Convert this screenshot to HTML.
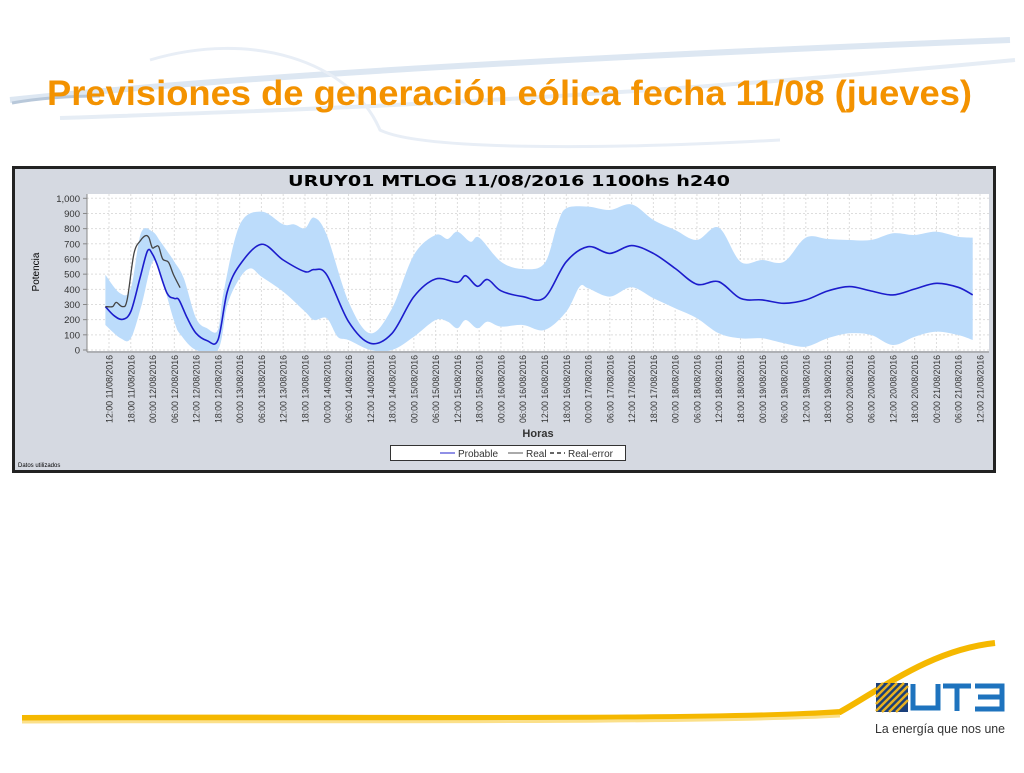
<!DOCTYPE html>
<html><head><meta charset="utf-8">
<style>
html,body{margin:0;padding:0;background:#fff;}
body{width:1024px;height:768px;overflow:hidden;position:relative;font-family:"Liberation Sans",sans-serif;}
</style></head>
<body>
<svg id="page" width="1024" height="768" viewBox="0 0 1024 768" xmlns="http://www.w3.org/2000/svg">
  <g fill="none">
    <path d="M10 100 C 200 80, 500 60, 1010 40" stroke="#dde7f2" stroke-width="6"/>
    <path d="M60 118 C 300 110, 600 100, 1015 60" stroke="#e6edf5" stroke-width="4"/>
    <path d="M150 60 C 250 30, 350 60, 380 130 C 420 150, 600 150, 780 140" stroke="#e8eef6" stroke-width="3"/>
    <path d="M12 103 C 40 98, 70 96, 100 96" stroke="#b8c8da" stroke-width="3"/>
  </g>
  <text x="47" y="105" font-size="35" font-weight="bold" fill="#f39200" textLength="925" lengthAdjust="spacingAndGlyphs">Previsiones de generación eólica fecha 11/08 (jueves)</text>

  <g>
    <rect x="13.5" y="167.5" width="981" height="304" fill="#d5d9e1" stroke="#222" stroke-width="3"/>
    <text x="288" y="186" font-size="15" font-weight="bold" fill="#000" font-family="'DejaVu Sans',sans-serif" textLength="442" lengthAdjust="spacingAndGlyphs">URUY01  MTLOG  11/08/2016  1100hs   h240</text>
    <rect x="87" y="194" width="902" height="157" fill="#fff"/>
    <g id="grid"></g>
    <g id="series"></g>
    <line x1="87" y1="194" x2="87" y2="352" stroke="#888"/>
    <line x1="87" y1="352" x2="989" y2="352" stroke="#888"/>
    <g id="yticks"></g>
    <g id="xticks"></g>
    <text x="0" y="0" transform="translate(39,272) rotate(-90)" font-size="10" text-anchor="middle" fill="#000">Potencia</text>
    <text x="538" y="437" font-size="11" font-weight="bold" text-anchor="middle" fill="#333">Horas</text>
    <g>
      <rect x="390.5" y="445.5" width="235" height="15" fill="#fff" stroke="#333"/>
      <g>
        <line x1="440" y1="453" x2="455" y2="453" stroke="#2222cc"/>
        <text x="458" y="457" font-size="10" fill="#333">Probable</text>
      </g>
      <g>
        <line x1="508" y1="453" x2="523" y2="453" stroke="#555"/>
        <text x="526" y="457" font-size="10" fill="#333">Real</text>
      </g>
      <g>
        <line x1="550" y1="453" x2="565" y2="453" stroke="#333" stroke-dasharray="4,3" stroke-width="1.5"/>
        <text x="568" y="457" font-size="10" fill="#333">Real-error</text>
      </g>
    </g>
    <text x="18" y="467" font-size="6" fill="#000">Datos utilizados</text>
  </g>

  <g fill="none">
    <path d="M22 718 C 300 716, 700 722, 840 712 C 880 690, 930 650, 995 643" stroke="#f5b800" stroke-width="6"/>
    <path d="M22 722 C 300 721, 700 724, 840 716" stroke="#fbe08a" stroke-width="3"/>
  </g>
  <g>
    <rect x="876" y="683" width="32" height="29" fill="#1a3f7a"/>
    <path d="M876 690 L883 683 M876 697 L890 683 M876 704 L897 683 M876 711 L904 683 M882 712 L908 686 M889 712 L908 693 M896 712 L908 700" stroke="#e8b020" stroke-width="2.5"/>
    <g fill="none" stroke="#1e73be" stroke-width="5">
      <path d="M913 684 V708 H938 V684"/>
      <path d="M943 686 H971 M957 686 V711"/>
      <path d="M975 686 H1002 V709 H975 M978 697 H1000"/>
    </g>
    <text x="875" y="733" font-size="13" fill="#333" textLength="130" lengthAdjust="spacingAndGlyphs">La energía que nos une</text>
  </g>
</svg>
<script>
const yTicks = [0,100,200,300,400,500,600,700,800,900,1000];
const yTickLabels = ["0","100","200","300","400","500","600","700","800","900","1,000"];
const xTickHours = [];
for (let i = 0; i <= 40; i++) xTickHours.push(i * 6);
const days = ["11","12","13","14","15","16","17","18","19","20","21"];
const hrs = ["00:00","06:00","12:00","18:00"];

const probHours = [-1,1.4,3.7,6,8.5,10.6,12,13.3,16,18,19.3,21.6,24,27,30,32.6,36,42,48,54,56.5,60,66,72,78,84,90,96,98.3,101.5,104.3,108,114,120,126,132,138,144,150,156,162,168,174,180,186,192,198,204,210,216,222,228,234,238];
const probValues = [286,226,202,253,470,653,630,560,374,340,330,209,110,62,65,385,560,697,593,516,530,495,187,44,110,352,468,446,490,420,465,390,352,345,582,681,637,688,637,538,433,450,340,330,308,330,389,418,389,363,402,440,413,363];
const upperHours = [-1,3,6,8.8,12,14.2,18,20.6,24,27,30,31.6,36,42,48,51,54,56.5,60,66,72,78,84,90,93.3,96,99.6,102,108,114,120,123.5,126,132,138,144,150,156,162,168,174,180,186,192,198,204,210,216,222,228,234,238];
const upperValues = [495,375,406,770,780,714,582,473,209,143,132,385,824,912,828,828,802,873,758,319,110,275,626,758,732,780,714,741,582,534,571,824,934,945,923,960,857,791,725,807,582,593,582,741,732,725,725,769,758,780,747,741];
const lowerHours = [-1,3.2,6,9,12,14.2,18,19.8,24,30,32.6,36,39,42,48,54,56.5,60,63,66,72,78,84,90,93.3,96,98.3,101.5,104.3,108,114,120,126,129.7,132,138,144,150,156,162,168,174,180,186,192,198,204,210,216,222,228,234,238];
const lowerValues = [165,77,77,300,582,495,187,99,0,0,297,473,538,484,385,253,198,209,88,66,0,0,88,198,187,143,198,143,187,154,165,132,253,418,407,352,413,341,275,209,110,77,77,44,22,77,110,99,33,88,121,99,66];
const realHours = [-1,1,2,3.7,5,6.9,8.8,10.1,11,11.9,12.8,13.7,14.8,16.4,17.8,19.6];
const realValues = [286,286,314,286,330,637,725,754,741,675,681,681,600,578,495,411];

const NS = "http://www.w3.org/2000/svg";
const X0 = 109, PXH = 871/240, Y0 = 350, PXV = 151.7/1000;
const xs = h => X0 + h * PXH;
const ys = v => Y0 - v * PXV;

function smooth(pts){
  let d = "M" + pts[0][0].toFixed(1) + " " + pts[0][1].toFixed(1);
  for (let i = 0; i < pts.length - 1; i++){
    const p0 = pts[Math.max(0,i-1)], p1 = pts[i], p2 = pts[i+1], p3 = pts[Math.min(pts.length-1,i+2)];
    const c1x = p1[0] + (p2[0]-p0[0])/6, c1y = p1[1] + (p2[1]-p0[1])/6;
    const c2x = p2[0] - (p3[0]-p1[0])/6, c2y = p2[1] - (p3[1]-p1[1])/6;
    d += " C" + c1x.toFixed(1) + " " + c1y.toFixed(1) + " " + c2x.toFixed(1) + " " + c2y.toFixed(1) + " " + p2[0].toFixed(1) + " " + p2[1].toFixed(1);
  }
  return d;
}
function pts(hs, vs){ return hs.map((h,i)=>[xs(h), ys(vs[i])]); }

const grid = document.getElementById("grid");
yTicks.forEach(v=>{
  const l = document.createElementNS(NS,"line");
  l.setAttribute("x1",87); l.setAttribute("x2",989);
  l.setAttribute("y1",ys(v)); l.setAttribute("y2",ys(v));
  l.setAttribute("stroke","#ddd"); l.setAttribute("stroke-dasharray","2,2");
  
  
  grid.appendChild(l);
});
xTickHours.forEach(h=>{
  const l = document.createElementNS(NS,"line");
  l.setAttribute("x1",xs(h)); l.setAttribute("x2",xs(h));
  l.setAttribute("y1",194); l.setAttribute("y2",351);
  l.setAttribute("stroke","#ddd"); l.setAttribute("stroke-dasharray","2,2");
  
  
  grid.appendChild(l);
});

const series = document.getElementById("series");
const up = pts(upperHours, upperValues), lo = pts(lowerHours, lowerValues).reverse();
const band = document.createElementNS(NS,"path");
band.setAttribute("d", smooth(up) + " L" + smooth(lo).slice(1) + " Z");
band.setAttribute("fill","#bcdcfb");
band.setAttribute("clip-path","url(#clipPlot)");


const defs = document.createElementNS(NS,"defs");
defs.innerHTML = '<clipPath id="clipPlot"><rect x="87" y="194" width="902" height="157"/></clipPath>';
series.appendChild(defs);
series.appendChild(band);

const prob = document.createElementNS(NS,"path");
prob.setAttribute("d", smooth(pts(probHours, probValues)));
prob.setAttribute("fill","none"); prob.setAttribute("stroke","#1c1ccc"); prob.setAttribute("stroke-width","1.6");


series.appendChild(prob);

const real = document.createElementNS(NS,"path");
real.setAttribute("d", smooth(pts(realHours, realValues)));
real.setAttribute("fill","none"); real.setAttribute("stroke","#444"); real.setAttribute("stroke-width","1.3");


series.appendChild(real);

const yt = document.getElementById("yticks");
yTicks.forEach((v,i)=>{
  const t = document.createElementNS(NS,"text");
  t.setAttribute("x",80); t.setAttribute("y",ys(v)+3.5);
  t.setAttribute("font-size","9.5"); t.setAttribute("text-anchor","end"); t.setAttribute("fill","#333");
  t.textContent = yTickLabels[i];
  
  
  yt.appendChild(t);
  const k = document.createElementNS(NS,"line");
  k.setAttribute("x1",83); k.setAttribute("x2",87); k.setAttribute("y1",ys(v)); k.setAttribute("y2",ys(v));
  k.setAttribute("stroke","#888");
  yt.appendChild(k);
});
const xt = document.getElementById("xticks");
xTickHours.forEach((h,i)=>{
  const hr = hrs[(i+2)%4];
  const day = days[Math.floor((i+2)/4)];
  const t = document.createElementNS(NS,"text");
  t.setAttribute("transform","translate(" + (xs(h)+3.5).toFixed(1) + ",355) rotate(-90)");
  t.setAttribute("font-size","9"); t.setAttribute("text-anchor","end"); t.setAttribute("fill","#333");
  t.setAttribute("textLength","68"); t.setAttribute("lengthAdjust","spacingAndGlyphs");
  t.textContent = hr + " " + day + "/08/2016";
  
  
  xt.appendChild(t);
});
</script>
</body></html>
